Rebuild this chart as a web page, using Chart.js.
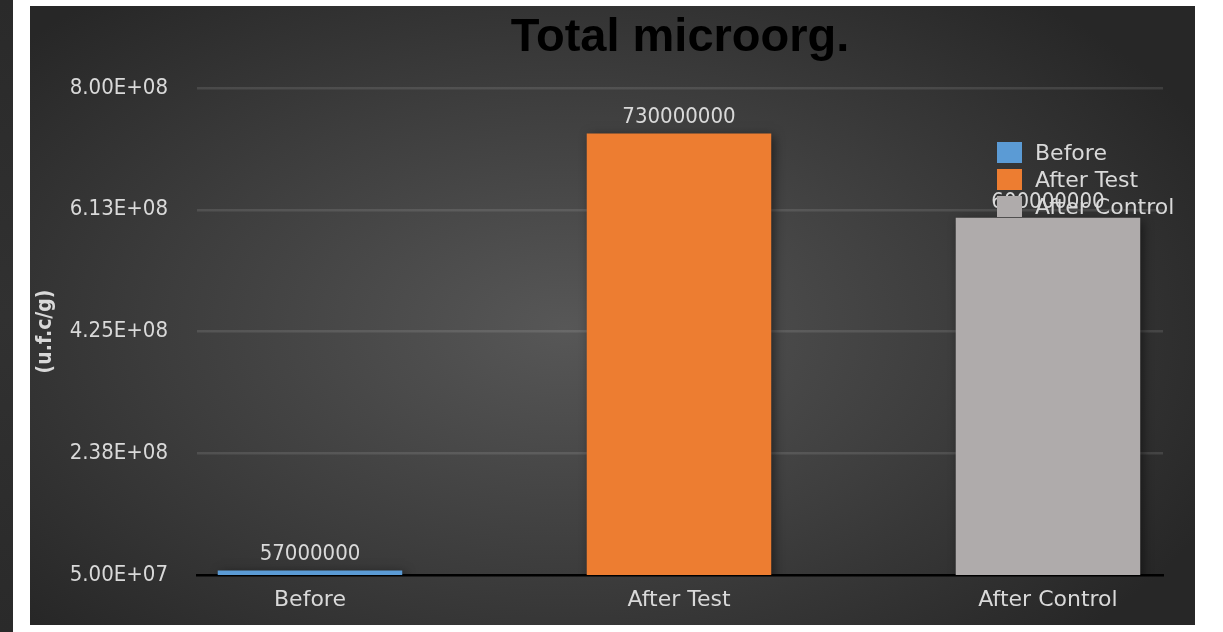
<!DOCTYPE html>
<html><head><meta charset="utf-8">
<script src="https://cdn.jsdelivr.net/npm/chart.js@4/dist/chart.umd.min.js"></script>
<style>
html,body{margin:0;padding:0;background:#fff;width:1223px;height:632px;overflow:hidden;position:relative}
#strip{position:absolute;left:0;top:0;width:13px;height:632px;background:linear-gradient(180deg,#2a2a2a,#313131 50%,#2a2a2a)}
#wrap{position:absolute;left:30px;top:6px;width:1165px;height:619px;background:radial-gradient(ellipse 62% 70% at 46% 52%, #575757 0%, #3d3d3d 55%, #272727 100%)}
canvas{display:block}
</style></head><body>
<div id="strip"></div>
<div id="wrap"><canvas id="c" width="1165" height="619"></canvas></div>
<script>
const categories = ['Before', 'After Test', 'After Control'];
const values = [57000000, 730000000, 600000000];
const colors = ['#5b9bd5', '#ed7d31', '#afabab'];
const yTicks = [50000000, 237500000, 425000000, 612500000, 800000000];
const chartTitle = 'Total microorg.';
const yTitle = '(u.f.c/g)';

const NUMFONT = '"DejaVu Sans Condensed", "DejaVu Sans", sans-serif';
const FONT = '"DejaVu Sans", sans-serif';
const TXT = '#d9d9d9';

function sci(v) {
  const s = Number(v).toExponential(2);
  const parts = s.split('e');
  const e = parseInt(parts[1], 10);
  return parts[0] + 'E' + (e < 0 ? '-' : '+') + String(Math.abs(e)).padStart(2, '0');
}

const datasets = categories.map((c, i) => ({
  label: c,
  data: [{x: i, y: values[i]}],
  backgroundColor: colors[i],
  borderWidth: 0,
  grouped: false,
  categoryPercentage: 1,
  barPercentage: 0.5
}));

const barFx = {
  id: 'barFx',
  beforeDatasetsDraw(chart) {
    const ctx = chart.ctx;
    ctx.save();
    ctx.shadowColor = 'rgba(0,0,0,0.5)';
    ctx.shadowBlur = 10;
    ctx.shadowOffsetX = 3;
    ctx.shadowOffsetY = 3;
  },
  afterDatasetsDraw(chart) {
    const ctx = chart.ctx;
    ctx.restore();
    ctx.save();
    ctx.font = '22px ' + NUMFONT;
    ctx.fillStyle = TXT;
    ctx.textAlign = 'center';
    ctx.textBaseline = 'middle';
    chart.data.datasets.forEach((ds, di) => {
      const meta = chart.getDatasetMeta(di);
      meta.data.forEach((el, j) => {
        ctx.fillText(String(ds.data[j].y), el.x, el.y - 16);
      });
    });
    ctx.restore();
  }
};

const customLegend = {
  id: 'customLegend',
  afterDraw(chart) {
    const ctx = chart.ctx;
    const a = chart.chartArea;
    const bx = a.right - 166, by = a.top + 54;
    ctx.save();
    ctx.font = '22px ' + FONT;
    ctx.textAlign = 'left';
    ctx.textBaseline = 'middle';
    chart.data.datasets.forEach((ds, i) => {
      const y = by + i * 27;
      ctx.fillStyle = ds.backgroundColor;
      ctx.fillRect(bx, y, 25, 21);
      ctx.fillStyle = TXT;
      ctx.fillText(ds.label, bx + 38, y + 12);
    });
    ctx.restore();
  }
};

new Chart(document.getElementById('c'), {
  type: 'bar',
  data: { datasets },
  plugins: [barFx, customLegend],
  options: {
    responsive: false,
    animation: false,
    layout: { padding: { top: 0, left: 0, right: 32, bottom: 0 } },
    plugins: {
      legend: { display: false },
      tooltip: { enabled: false },
      title: {
        display: true,
        text: chartTitle,
        color: '#000',
        fullSize: false,
        font: { family: '"Liberation Sans", Arial, sans-serif', size: 47, weight: 'bold', lineHeight: 1.0 },
        padding: { top: 9, bottom: 26 }
      }
    },
    scales: {
      x: {
        type: 'linear',
        offset: false,
        min: -0.3062,
        max: 2.3117,
        afterBuildTicks(scale) { scale.ticks = categories.map((c, i) => ({ value: i })); },
        ticks: {
          callback: (v) => categories[v],
          color: TXT,
          font: { family: FONT, size: 22 },
          padding: 12,
          maxRotation: 0
        },
        grid: { display: false, drawTicks: false, offset: false },
        border: { display: true, color: '#000', width: 2.5 },
        afterFit(scale) { scale.height = 50; }
      },
      y: {
        min: yTicks[0],
        max: yTicks[yTicks.length - 1],
        afterBuildTicks(scale) { scale.ticks = yTicks.map(v => ({ value: v })); },
        ticks: {
          callback: (v) => sci(v),
          color: TXT,
          font: { family: NUMFONT, size: 22 },
          padding: 29
        },
        grid: {
          color: (c) => c.index === 0 ? 'rgba(0,0,0,0)' : 'rgba(255,255,255,0.11)',
          lineWidth: 2.5,
          drawTicks: false
        },
        border: { display: false },
        title: {
          display: true,
          text: yTitle,
          color: TXT,
          font: { family: NUMFONT, size: 21, weight: 'bold' },
          padding: { top: 3, bottom: 0 }
        },
        afterFit(scale) { scale.width = 167; }
      }
    }
  }
});
</script>
</body></html>
